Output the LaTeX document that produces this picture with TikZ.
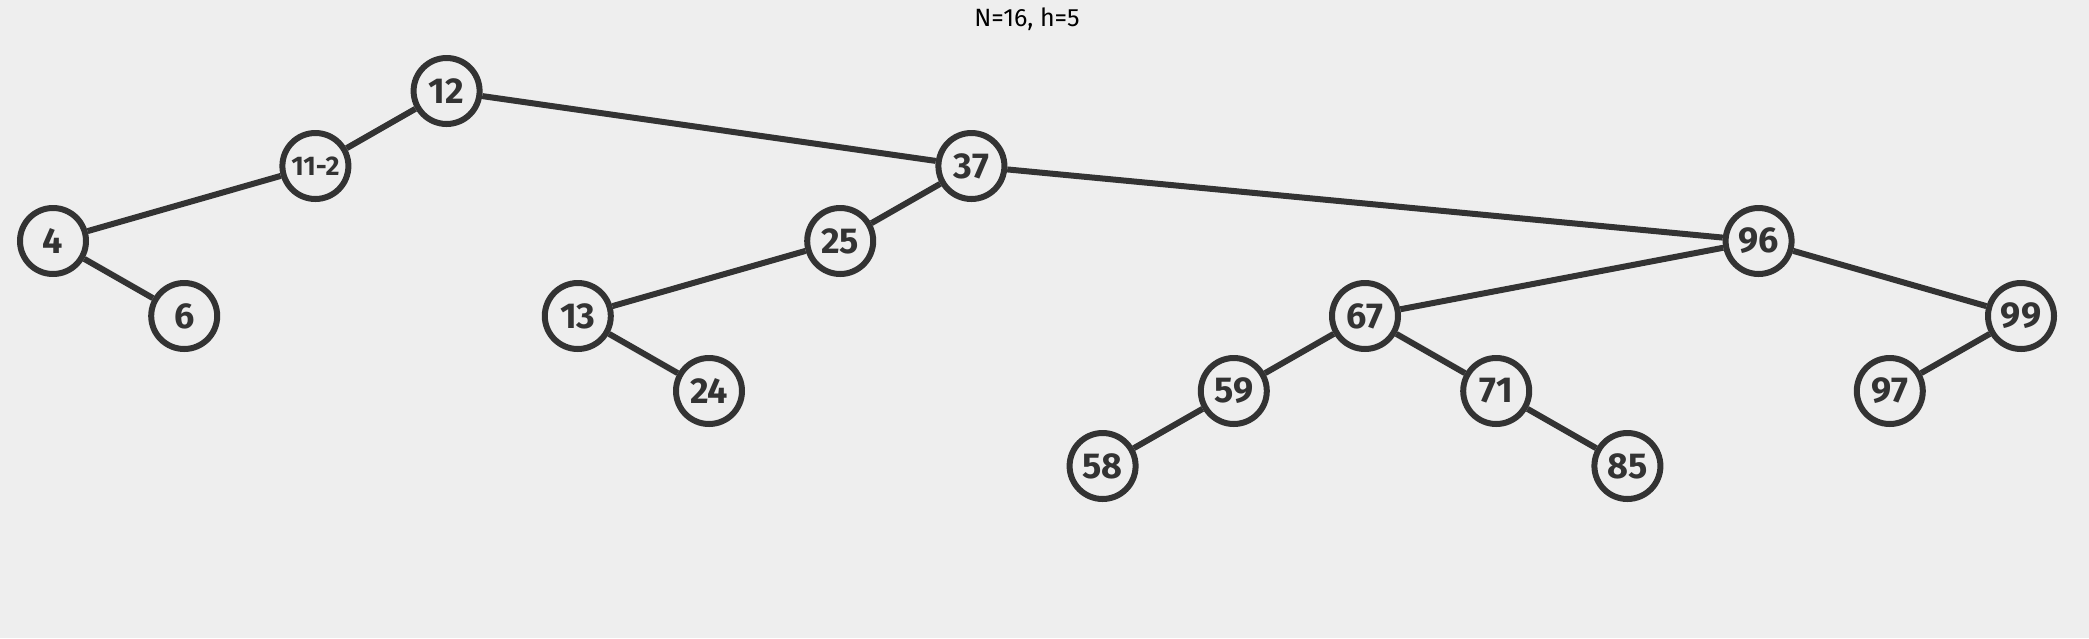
\documentclass[tikz,border=0pt]{standalone}
\usepackage{fontspec}
\setmainfont{Fira Sans}
\usetikzlibrary{positioning}
\definecolor{bgcol}{HTML}{EEEEEE}
\definecolor{inkcol}{HTML}{333333}
\newcommand{\dx}{131.2}
\newcommand{\dy}{75}

\begin{document}
\begin{tikzpicture}[x=1pt, y=-1pt,
    vert/.style={circle, draw=inkcol, line width=6pt, fill=bgcol, minimum size=66pt, inner sep=0pt,
        text=inkcol, font=\fontsize{36}{36}\selectfont\bfseries},
    edge/.style={draw=inkcol, line width=6pt}]
    \fill[bgcol] (0,0) rectangle (2089,638); % background
    \node[text=black, font=\fontsize{25}{25}\selectfont] (title) at (1027,19) {N=16, h=5};

    \begin{scope}[shift={(53,91)}]
        \node[vert] (n12) at (3*\dx, 0*\dy) {12};
        \node[vert, font=\fontsize{27}{27}\selectfont\bfseries] (n11) at (2*\dx, 1*\dy) {11-2};
        \node[vert] (n4) at (0*\dx, 2*\dy) {4};
        \node[vert] (n6) at (1*\dx, 3*\dy) {6};
        \node[vert] (n37) at (7*\dx, 1*\dy) {37};
        \node[vert] (n25) at (6*\dx, 2*\dy) {25};
        \node[vert] (n13) at (4*\dx, 3*\dy) {13};
        \node[vert] (n24) at (5*\dx, 4*\dy) {24};
        \node[vert] (n96) at (13*\dx, 2*\dy) {96};
        \node[vert] (n67) at (10*\dx, 3*\dy) {67};
        \node[vert] (n59) at (9*\dx, 4*\dy) {59};
        \node[vert] (n58) at (8*\dx, 5*\dy) {58};
        \node[vert] (n71) at (11*\dx, 4*\dy) {71};
        \node[vert] (n85) at (12*\dx, 5*\dy) {85};
        \node[vert] (n99) at (15*\dx, 3*\dy) {99};
        \node[vert] (n97) at (14*\dx, 4*\dy) {97};
    \end{scope}

    \draw[edge] (n12) -- (n11);
    \draw[edge] (n12) -- (n37);
    \draw[edge] (n11) -- (n4);
    \draw[edge] (n4) -- (n6);
    \draw[edge] (n37) -- (n25);
    \draw[edge] (n37) -- (n96);
    \draw[edge] (n25) -- (n13);
    \draw[edge] (n13) -- (n24);
    \draw[edge] (n96) -- (n67);
    \draw[edge] (n96) -- (n99);
    \draw[edge] (n67) -- (n59);
    \draw[edge] (n67) -- (n71);
    \draw[edge] (n59) -- (n58);
    \draw[edge] (n71) -- (n85);
    \draw[edge] (n99) -- (n97);
\end{tikzpicture}
\end{document}
